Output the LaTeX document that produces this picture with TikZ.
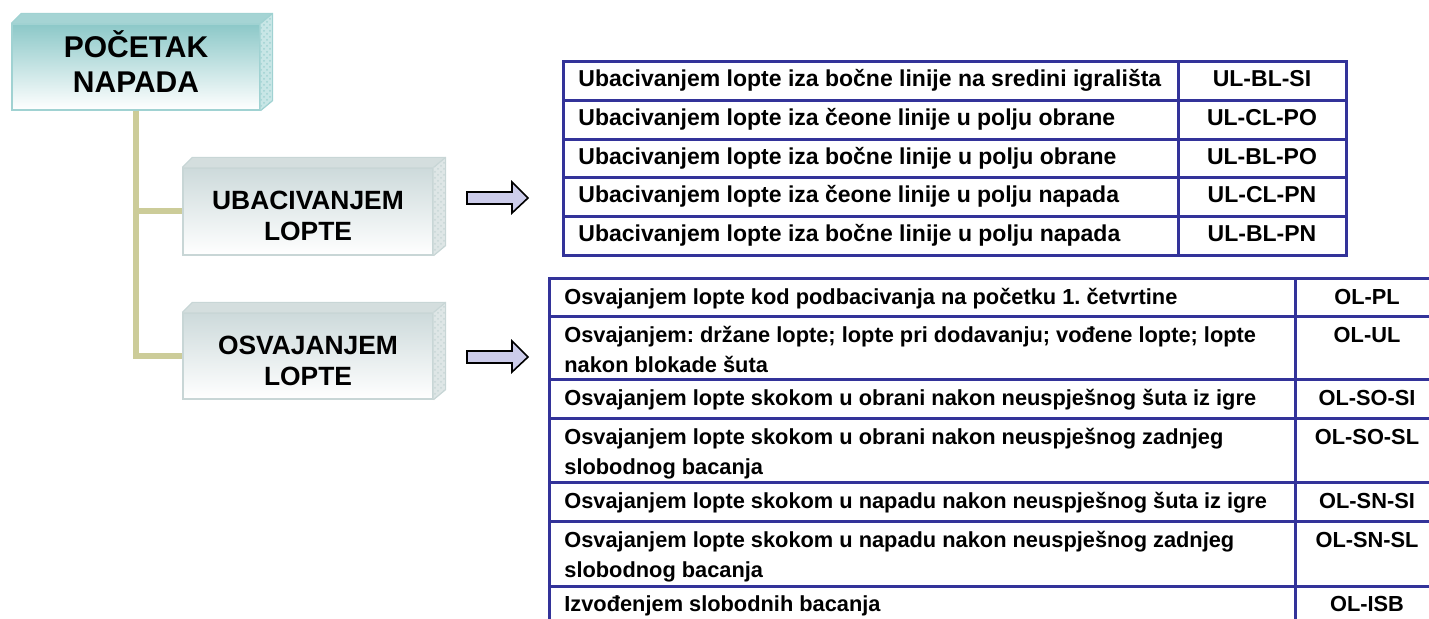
\documentclass[tikz,border=0pt]{standalone}
\usepackage{fontspec}
\setmainfont{Liberation Sans}
\frenchspacing
\usetikzlibrary{calc,patterns}
\definecolor{tealtop}{RGB}{140,200,200}
\definecolor{tealedge}{RGB}{160,210,210}
\definecolor{tealface}{RGB}{165,212,212}
\definecolor{tealside}{RGB}{200,230,230}
\definecolor{graytop}{RGB}{205,218,219}
\definecolor{grayedge}{RGB}{200,214,214}
\definecolor{grayface}{RGB}{212,222,222}
\definecolor{grayside}{RGB}{222,230,230}
\definecolor{connc}{RGB}{204,204,153}
\definecolor{arrowc}{RGB}{204,204,234}
\definecolor{tabc}{RGB}{51,51,153}
\tikzset{
  tealbox/.style={rectangle, draw=tealedge, line width=0.6pt, top color=tealtop, bottom color=white, inner sep=0pt},
  graybox/.style={rectangle, draw=grayedge, line width=0.6pt, top color=graytop, bottom color=white, inner sep=0pt},
  boxtext/.style={font=\fontsize{15}{17.5}\selectfont\bfseries, inner sep=0pt, anchor=base},
  subtext/.style={font=\fontsize{13.2}{15.5}\selectfont\bfseries, inner sep=0pt, anchor=base},
  conn/.style={draw=connc, line width=3pt},
  barrow/.style={draw=black, fill=arrowc, line width=0.8pt, line join=miter},
  tabline/.style={draw=tabc, line width=1.5pt},
  celltext/.style={font=\fontsize{11.5}{15}\selectfont\bfseries, inner sep=0pt, anchor=base west},
  codetext/.style={font=\fontsize{11.5}{15}\selectfont\bfseries, inner sep=0pt, anchor=base},
  celltextb/.style={font=\fontsize{10.9}{15}\selectfont\bfseries, inner sep=0pt, anchor=base west},
  codetextb/.style={font=\fontsize{10.9}{15}\selectfont\bfseries, inner sep=0pt, anchor=base},
}
\begin{document}
\begin{tikzpicture}[x=0.5pt,y=-0.5pt]
\useasboundingbox (0,0) rectangle (1429,619);
\clip (0,0) rectangle (1429,619);

% ---- boxes (front faces) ----
\node[tealbox, minimum width=124pt, minimum height=43pt] (pocetak) at (136,67) {};
\node[graybox, minimum width=125pt, minimum height=43.5pt] (uba) at (308,211.5) {};
\node[graybox, minimum width=125pt, minimum height=43pt] (osv) at (308,356) {};

% 3D faces
\foreach \b/\tc/\sc/\ec in {pocetak/tealface/tealside/tealedge, uba/grayface/grayside/grayedge, osv/grayface/grayside/grayedge}{
  \fill[\tc] (\b.north west) -- ($(\b.north west)+(10,-10)$) -- ($(\b.north east)+(12,-10)$) -- (\b.north east) -- cycle;
  \fill[\sc] (\b.north east) -- ($(\b.north east)+(12,-10)$) -- ($(\b.south east)+(12,-10)$) -- (\b.south east) -- cycle;
  \fill[pattern=crosshatch dots, pattern color=\ec] (\b.north east) -- ($(\b.north east)+(12,-10)$) -- ($(\b.south east)+(12,-10)$) -- (\b.south east) -- cycle;
  \draw[\ec, line width=0.6pt] (\b.north west) -- ($(\b.north west)+(10,-10)$) -- ($(\b.north east)+(12,-10)$) -- ($(\b.south east)+(12,-10)$) -- (\b.south east);
  \draw[\ec, line width=0.6pt] (\b.north east) -- ($(\b.north east)+(12,-10)$);
}

% box texts
\node[boxtext] (pocetakt) at (136,58) {\begin{tabular}[t]{@{}c@{}}POČETAK\\NAPADA\end{tabular}};
\node[subtext] (ubat) at (308,210) {\begin{tabular}[t]{@{}c@{}}UBACIVANJEM\\LOPTE\end{tabular}};
\node[subtext] (osvt) at (308,355) {\begin{tabular}[t]{@{}c@{}}OSVAJANJEM\\LOPTE\end{tabular}};

% connectors
\draw[conn] (pocetak.south) |- (uba.west);
\draw[conn] (pocetak.south) |- (osv.west);

% block arrows
\coordinate (a1) at (467,198);
\coordinate (a2) at (467,357);
\foreach \a in {a1,a2}{
  \draw[barrow, shift={(\a)}] (0,-6) -- (45,-6) -- (45,-16) -- (61,0) -- (45,15) -- (45,6) -- (0,6) -- cycle;
}

% ---- top table ----
\draw[tabline] (563,62) rectangle (1346,256);
\foreach \y in {101,140,178,217} \draw[tabline] (563,\y) -- (1346,\y);
\draw[tabline] (1178,62) -- (1178,256);

\node[celltext] (u1) at (578,87) {Ubacivanjem lopte iza bočne linije na sredini igrališta};
\node[celltext] (u2) at (578,126) {Ubacivanjem lopte iza čeone linije u polju obrane};
\node[celltext] (u3) at (578,165) {Ubacivanjem lopte iza bočne linije u polju obrane};
\node[celltext] (u4) at (578,203) {Ubacivanjem lopte iza čeone linije u polju napada};
\node[celltext] (u5) at (578,242) {Ubacivanjem lopte iza bočne linije u polju napada};
\node[codetext] (c1) at (1262,87) {UL-BL-SI};
\node[codetext] (c2) at (1262,126) {UL-CL-PO};
\node[codetext] (c3) at (1262,165) {UL-BL-PO};
\node[codetext] (c4) at (1262,203) {UL-CL-PN};
\node[codetext] (c5) at (1262,242) {UL-BL-PN};

% ---- bottom table ----
\draw[tabline] (1439,279) -- (549,279) -- (549,630);
\draw[tabline] (1439,279) -- (1439,630);
\foreach \y in {317,380,419,483,522,586} \draw[tabline] (549,\y) -- (1439,\y);
\draw[tabline] (1295,279) -- (1295,630);

\node[celltextb] (o1) at (564,305) {Osvajanjem lopte kod podbacivanja na početku 1. četvrtine};
\node[celltextb] (o2) at (564,343) {\begin{tabular}[t]{@{}l@{}}Osvajanjem: držane lopte; lopte pri dodavanju; vođene lopte; lopte\\nakon blokade šuta\end{tabular}};
\node[celltextb] (o3) at (564,406) {Osvajanjem lopte skokom u obrani nakon neuspješnog šuta iz igre};
\node[celltextb] (o4) at (564,445) {\begin{tabular}[t]{@{}l@{}}Osvajanjem lopte skokom u obrani nakon neuspješnog zadnjeg\\slobodnog bacanja\end{tabular}};
\node[celltextb] (o5) at (564,509) {Osvajanjem lopte skokom u napadu nakon neuspješnog šuta iz igre};
\node[celltextb] (o6) at (564,548) {\begin{tabular}[t]{@{}l@{}}Osvajanjem lopte skokom u napadu nakon neuspješnog zadnjeg\\slobodnog bacanja\end{tabular}};
\node[celltextb] (o7) at (564,611) {Izvođenjem slobodnih bacanja};
\node[codetextb] (d1) at (1367,305) {OL-PL};
\node[codetextb] (d2) at (1367,343) {OL-UL};
\node[codetextb] (d3) at (1367,406) {OL-SO-SI};
\node[codetextb] (d4) at (1367,445) {OL-SO-SL};
\node[codetextb] (d5) at (1367,509) {OL-SN-SI};
\node[codetextb] (d6) at (1367,548) {OL-SN-SL};
\node[codetextb] (d7) at (1367,611) {OL-ISB};
\end{tikzpicture}
\end{document}
